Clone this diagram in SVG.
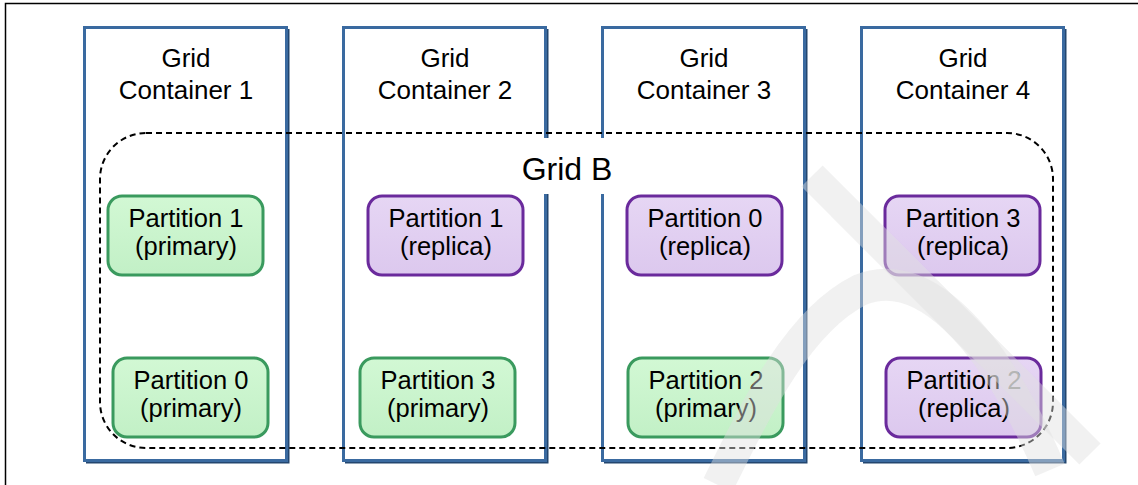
<svg xmlns="http://www.w3.org/2000/svg" width="1138" height="485" viewBox="0 0 1138 485">
<defs>
<style>
.frame{fill:none;stroke:#000;stroke-width:1.5}
.cont{fill:#fff;stroke:#3a6aa0;stroke-width:3}
.contsh{fill:none;stroke:#23466f;stroke-width:3}
.ctext{font-family:"Liberation Sans",Arial,sans-serif;font-size:26px;fill:#000;text-anchor:middle}
.gridb{fill:none;stroke:#000;stroke-width:2;stroke-dasharray:6,4}
.gtext{font-family:"Liberation Sans",Arial,sans-serif;font-size:32px;fill:#000;text-anchor:middle}
.pri{fill:url(#gGreen);stroke:#3a9a5e;stroke-width:3}
.rep{fill:url(#gPurple);stroke:#6a2a9c;stroke-width:3}
.ptext{font-family:"Liberation Sans",Arial,sans-serif;font-size:25.5px;fill:#000;text-anchor:middle}
.wm{fill:none;stroke:#e0e0e0;stroke-opacity:0.45}
</style>
<linearGradient id="gGreen" x1="0" y1="0" x2="0" y2="1">
<stop offset="0" stop-color="#d2f8d4"/>
<stop offset="1" stop-color="#c2f0c6"/>
</linearGradient>
<linearGradient id="gPurple" x1="0" y1="0" x2="0" y2="1">
<stop offset="0" stop-color="#e6d6f4"/>
<stop offset="1" stop-color="#dcc8ee"/>
</linearGradient>
</defs>
<rect width="1138" height="485" fill="#fff"/>
<path class="frame" d="M5.5 485 V3.5 H1138"/>

<g id="container1">
<polyline class="contsh" points="288,29 288,462 86,462"/>
<rect class="cont" x="84.5" y="27.5" width="202" height="433"/>
<text class="ctext" x="186" y="67">Grid</text>
<text class="ctext" x="186" y="99">Container 1</text>
</g>
<g id="container2">
<polyline class="contsh" points="547,29 547,462 345,462"/>
<rect class="cont" x="343.5" y="27.5" width="202" height="433"/>
<text class="ctext" x="445" y="67">Grid</text>
<text class="ctext" x="445" y="99">Container 2</text>
</g>
<g id="container3">
<polyline class="contsh" points="806,29 806,462 604,462"/>
<rect class="cont" x="602.5" y="27.5" width="202" height="433"/>
<text class="ctext" x="704" y="67">Grid</text>
<text class="ctext" x="704" y="99">Container 3</text>
</g>
<g id="container4">
<polyline class="contsh" points="1065,29 1065,462 863,462"/>
<rect class="cont" x="861.5" y="27.5" width="202" height="433"/>
<text class="ctext" x="963" y="67">Grid</text>
<text class="ctext" x="963" y="99">Container 4</text>
</g>

<g id="gridB">
<rect class="gridb" x="100" y="133" width="953" height="315" rx="46" ry="46"/>
<rect x="512" y="138" width="110" height="56" fill="#fff"/>
<text class="gtext" x="567" y="180">Grid B</text>
</g>

<g id="p1primary">
<rect class="pri" x="108" y="196" width="155" height="79" rx="14"/>
<text class="ptext" x="186" y="227">Partition 1</text>
<text class="ptext" x="186" y="255">(primary)</text>
</g>
<g id="p0primary">
<rect class="pri" x="113" y="358" width="155" height="79" rx="14"/>
<text class="ptext" x="191" y="389">Partition 0</text>
<text class="ptext" x="191" y="417">(primary)</text>
</g>
<g id="p1replica">
<rect class="rep" x="368" y="196" width="155" height="79" rx="14"/>
<text class="ptext" x="446" y="227">Partition 1</text>
<text class="ptext" x="446" y="255">(replica)</text>
</g>
<g id="p3primary">
<rect class="pri" x="360" y="358" width="155" height="79" rx="14"/>
<text class="ptext" x="438" y="389">Partition 3</text>
<text class="ptext" x="438" y="417">(primary)</text>
</g>
<g id="p0replica">
<rect class="rep" x="627" y="196" width="155" height="79" rx="14"/>
<text class="ptext" x="705" y="227">Partition 0</text>
<text class="ptext" x="705" y="255">(replica)</text>
</g>
<g id="p2primary">
<rect class="pri" x="628" y="358" width="155" height="79" rx="14"/>
<text class="ptext" x="706" y="389">Partition 2</text>
<text class="ptext" x="706" y="417">(primary)</text>
</g>
<g id="p3replica">
<rect class="rep" x="885" y="196" width="155" height="79" rx="14"/>
<text class="ptext" x="963" y="227">Partition 3</text>
<text class="ptext" x="963" y="255">(replica)</text>
</g>
<g id="p2replica">
<rect class="rep" x="886" y="358" width="155" height="79" rx="14"/>
<text class="ptext" x="964" y="389">Partition <tspan fill="#555">2</tspan></text>
<text class="ptext" x="964" y="417">(replica)</text>
</g>

<g id="watermark">
<path class="wm" stroke-width="30" d="M812 176 L1090 454"/>
<path class="wm" stroke-width="32" d="M718 485 C 760 400, 800 320, 860 290 C 920 265, 990 330, 1050 470"/>
</g>
</svg>
